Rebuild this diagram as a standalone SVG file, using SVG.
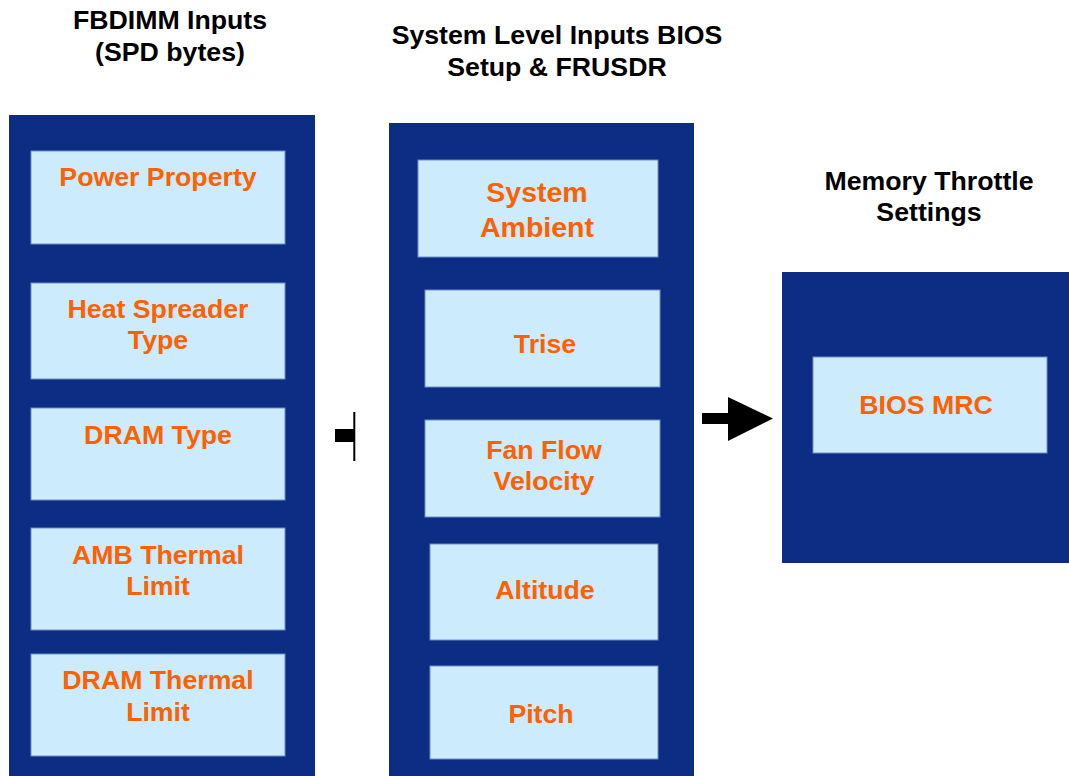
<svg xmlns="http://www.w3.org/2000/svg" width="1069" height="776" viewBox="0 0 1069 776">
  <style>
    .panel { fill: #0C2D83; }
    .box { fill: #CCECFD; stroke: #6F8FC6; stroke-width: 1; }
    .title { font-family: "Liberation Sans", Arial, sans-serif; font-weight: bold; font-size: 26.7px; fill: #000; text-anchor: middle; }
    .label { font-family: "Liberation Sans", Arial, sans-serif; font-weight: bold; font-size: 26.7px; fill: #FF6000; text-anchor: middle; }
    .big { font-size: 28.5px; }
  </style>
  <rect width="1069" height="776" fill="#ffffff"/>

  <!-- column headings -->
  <g id="headings">
    <text class="title" x="170" y="29">FBDIMM Inputs</text>
    <text class="title" x="170" y="61">(SPD bytes)</text>
    <text class="title" x="557" y="44">System Level Inputs BIOS</text>
    <text class="title" x="557" y="76">Setup &amp; FRUSDR</text>
    <text class="title" x="929" y="190">Memory Throttle</text>
    <text class="title" x="929" y="221">Settings</text>
  </g>

  <!-- FBDIMM inputs panel -->
  <g id="fbdimm-panel">
    <rect class="panel" x="9" y="115" width="306" height="661"/>
    <g id="power-property">
      <rect class="box" x="31" y="151" width="254" height="93"/>
      <text class="label" x="158" y="186">Power Property</text>
    </g>
    <g id="heat-spreader">
      <rect class="box" x="31" y="283" width="254" height="96"/>
      <text class="label" x="158" y="318">Heat Spreader</text>
      <text class="label" x="158" y="349">Type</text>
    </g>
    <g id="dram-type">
      <rect class="box" x="31" y="408" width="254" height="92"/>
      <text class="label" x="158" y="444">DRAM Type</text>
    </g>
    <g id="amb-thermal">
      <rect class="box" x="31" y="528" width="254" height="102"/>
      <text class="label" x="158" y="564">AMB Thermal</text>
      <text class="label" x="158" y="595">Limit</text>
    </g>
    <g id="dram-thermal">
      <rect class="box" x="31" y="654" width="254" height="102"/>
      <text class="label" x="158" y="689">DRAM Thermal</text>
      <text class="label" x="158" y="721">Limit</text>
    </g>
  </g>

  <!-- system level inputs panel -->
  <g id="system-panel">
    <rect class="panel" x="389" y="123" width="305" height="653"/>
    <g id="system-ambient">
      <rect class="box" x="418" y="160" width="240" height="97"/>
      <text class="label big" x="537" y="202">System</text>
      <text class="label big" x="537" y="237">Ambient</text>
    </g>
    <g id="trise">
      <rect class="box" x="425" y="290" width="235" height="97"/>
      <text class="label" x="545" y="353">Trise</text>
    </g>
    <g id="fan-flow">
      <rect class="box" x="425" y="420" width="235" height="97"/>
      <text class="label" x="544" y="459">Fan Flow</text>
      <text class="label" x="544" y="490">Velocity</text>
    </g>
    <g id="altitude">
      <rect class="box" x="430" y="544" width="228" height="96"/>
      <text class="label" x="545" y="599">Altitude</text>
    </g>
    <g id="pitch">
      <rect class="box" x="430" y="666" width="228" height="93"/>
      <text class="label" x="541" y="723">Pitch</text>
    </g>
  </g>

  <!-- memory throttle settings panel -->
  <g id="throttle-panel">
    <rect class="panel" x="782" y="272" width="287" height="291"/>
    <g id="bios-mrc">
      <rect class="box" x="813" y="357" width="234" height="96"/>
      <text class="label" x="926" y="414">BIOS MRC</text>
    </g>
  </g>

  <!-- connectors -->
  <g id="connectors">
    <rect x="335" y="429" width="19" height="13" fill="#000"/>
    <line x1="354.3" y1="412" x2="354.3" y2="461" stroke="#000" stroke-width="2"/>
    <polygon points="702,413 728,413 728,397 773,418.5 728,441 728,424 702,424" fill="#000"/>
  </g>
</svg>
